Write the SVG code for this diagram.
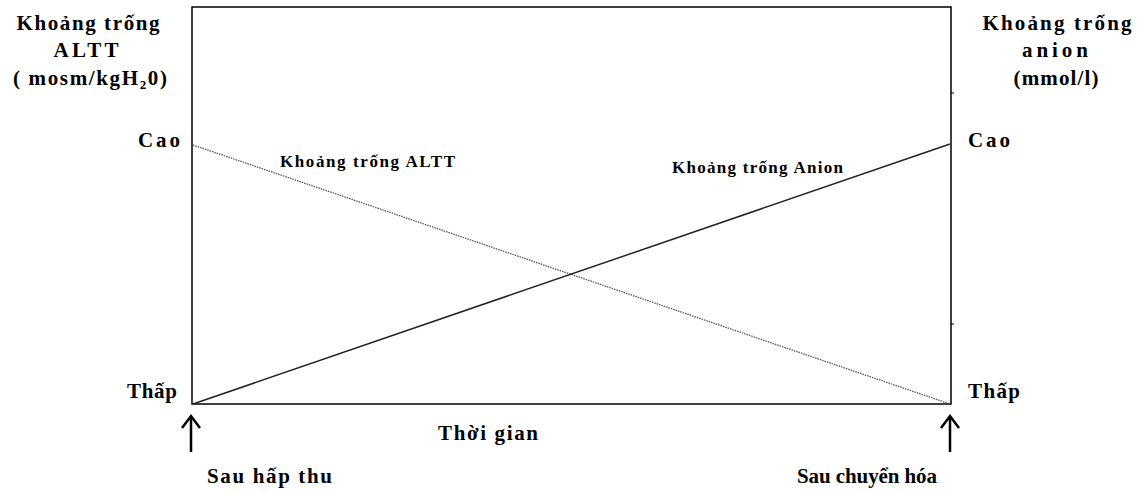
<svg xmlns="http://www.w3.org/2000/svg" width="1141" height="494" viewBox="0 0 1141 494">
<style>
text{font-family:"Liberation Serif",serif;font-weight:700;fill:#000;font-size:21px}
.s{font-size:17px}
.m{text-anchor:middle}
.arr{fill:none;stroke:#000;stroke-width:2.5}
</style>
<rect width="1141" height="494" fill="#fff"/>
<g id="frame">
<rect x="192" y="7" width="759" height="397" fill="none" stroke="#000" stroke-width="1.5"/>
<line x1="951" y1="93" x2="954" y2="93" stroke="#000"/>
<line x1="951" y1="324" x2="954" y2="324" stroke="#000"/>
</g>
<g id="connectors">
<line x1="193" y1="145" x2="950" y2="404" stroke="#555" stroke-width="1.3" stroke-dasharray="1.5,1"/>
<line x1="193" y1="404" x2="950" y2="144" stroke="#222" stroke-width="1.5"/>
<path class="arr" d="M191,452 V416 M182,428 L191,416 L200,428"/>
<path class="arr" d="M950,452 V416 M941,428 L950,416 L959,428"/>
</g>
<g id="left-axis-label">
<text class="m" x="88" y="30" textLength="143">Khoảng trống</text>
<text class="m" x="86" y="57" textLength="65">ALTT</text>
<text class="m" x="90" y="85" textLength="154">( mosm/kgH<tspan font-size="13" dy="4">2</tspan><tspan dy="-4">0)</tspan></text>
</g>
<g id="right-axis-label">
<text class="m" x="1057" y="30" textLength="149">Khoảng trống</text>
<text class="m" x="1055" y="57" textLength="66">anion</text>
<text class="m" x="1056" y="85" textLength="85">(mmol/l)</text>
</g>
<g id="ticks">
<text x="138" y="147" textLength="42">Cao</text>
<text x="968" y="147" textLength="42">Cao</text>
<text x="127" y="398" textLength="50">Thấp</text>
<text x="968" y="398" textLength="52">Thấp</text>
</g>
<g id="series-labels">
<text class="s" x="280" y="167" textLength="175">Khoảng trống ALTT</text>
<text class="s" x="672" y="173" textLength="171">Khoảng trống Anion</text>
</g>
<g id="x-labels">
<text x="438" y="440" textLength="100">Thời gian</text>
<text x="207" y="483" textLength="125">Sau hấp thu</text>
<text x="797" y="483" textLength="140">Sau chuyển hóa</text>
</g>
</svg>
